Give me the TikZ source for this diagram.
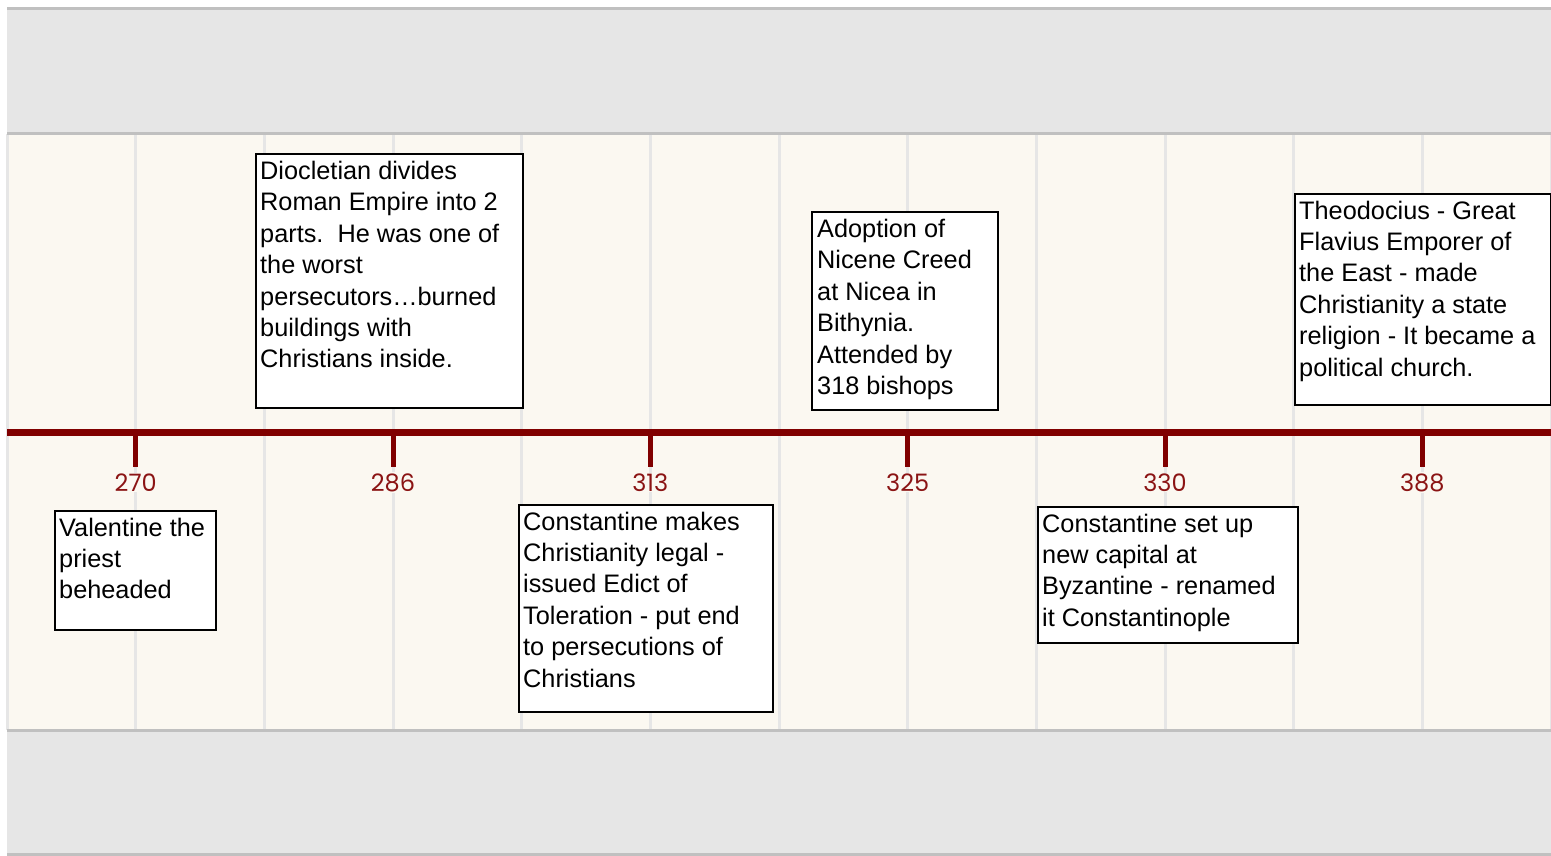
\documentclass[tikz,border=0pt]{standalone}
\usepackage{fontspec}
\setmainfont{Liberation Sans}
\newfontfamily\yearfont{Poppins}
\definecolor{cream}{HTML}{FBF8F1}
\definecolor{bandgray}{HTML}{E6E6E6}
\definecolor{bandline}{HTML}{C0C0C0}
\definecolor{gridline}{HTML}{E6E6E6}
\definecolor{axisred}{HTML}{800000}
\definecolor{yearred}{HTML}{8B1414}
\tikzset{
  band/.style={fill=bandgray, draw=none},
  bandedge/.style={draw=bandline, line width=3pt},
  gridv/.style={draw=gridline, line width=3pt},
  axisline/.style={draw=axisred, line width=7pt},
  tickline/.style={draw=axisred, line width=5pt},
  yearlabel/.style={font=\yearfont\fontsize{24}{30}\selectfont, text=yearred, fill=cream, inner sep=1pt},
  eventbox/.style={draw=black, line width=1.8pt, fill=white, anchor=north west, inner sep=0pt},
  eventtext/.style={anchor=north west, inner sep=0pt, align=left, font=\fontsize{25.3}{31.4}\selectfont}
}
\begin{document}
\begin{tikzpicture}[x=1pt,y=-1pt]
\useasboundingbox (0,0) rectangle (1551,856);
\fill[white] (0,0) rectangle (1551,856);
% bands
\fill[band] (7,9) rectangle (1551,134);
\fill[cream] (7,134) rectangle (1551,730);
\fill[band] (7,730) rectangle (1551,854);
% vertical grid
\foreach \i in {0,...,12} {
  \draw[gridv] ({7+\i*128.667},134) -- ({7+\i*128.667},730);
}
% band edges
\draw[bandedge] (7,9) -- (1551,9);
\draw[bandedge] (7,134) -- (1551,134);
\draw[bandedge] (7,730) -- (1551,730);
\draw[bandedge] (7,854) -- (1551,854);
% axis
\coordinate (axL) at (7,432.5);
\coordinate (axR) at (1551,432.5);
\draw[axisline] (axL) -- (axR);
% ticks and years
\foreach \x/\yr/\nm in {135.7/270/a, 393/286/b, 650.3/313/c, 907.7/325/d, 1165/330/e, 1422.3/388/f} {
  \coordinate (t\nm) at (\x,436);
  \node[yearlabel] (y\nm) at (\x,482.5) {\yr};
  \draw[tickline] (t\nm) -- (\x,467);
}
% event boxes
\node[eventbox, minimum width=267pt, minimum height=254pt] (bDio) at (255,153) {};
\node[eventtext] (tDio) at (260,161) {Diocletian divides\\Roman Empire into 2\\parts.\ \ He was one of\\the worst\\persecutors\ldots burned\\buildings with\\Christians inside.};

\node[eventbox, minimum width=186pt, minimum height=198pt] (bNic) at (811,211) {};
\node[eventtext] (tNic) at (817,219) {Adoption of\\Nicene Creed\\at Nicea in\\Bithynia.\\Attended by\\318 bishops};

\node[eventbox, minimum width=256pt, minimum height=211pt] (bThe) at (1294,193) {};
\node[eventtext] (tThe) at (1299,200.5) {Theodocius - Great\\Flavius Emporer of\\the East - made\\Christianity a state\\religion - It became a\\political church.};

\node[eventbox, minimum width=161pt, minimum height=119pt] (bVal) at (54,510) {};
\node[eventtext] (tVal) at (59,517.5) {Valentine the\\priest\\beheaded};

\node[eventbox, minimum width=254pt, minimum height=207pt] (bLeg) at (518,504) {};
\node[eventtext] (tLeg) at (523,511.5) {Constantine makes\\Christianity legal -\\issued Edict of\\Toleration - put end\\to persecutions of\\Christians};

\node[eventbox, minimum width=260pt, minimum height=136pt] (bCap) at (1037,506) {};
\node[eventtext] (tCap) at (1042,513.5) {Constantine set up\\new capital at\\Byzantine - renamed\\it Constantinople};
\end{tikzpicture}
\end{document}
